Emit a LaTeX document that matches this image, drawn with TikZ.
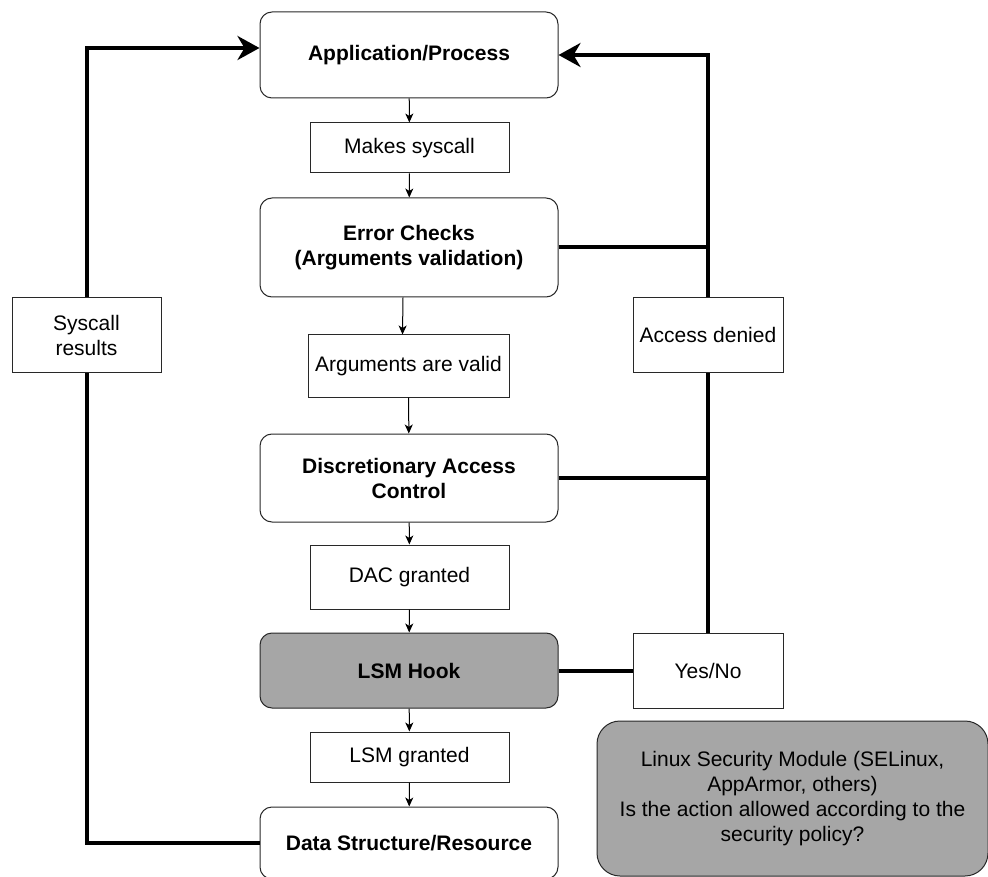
\documentclass[tikz,border=0pt]{standalone}
\usepackage{fontspec}
\setmainfont{Liberation Sans}
\usetikzlibrary{arrows.meta}
\definecolor{boxgray}{RGB}{166,166,166}
\definecolor{edge}{RGB}{40,40,40}
\begin{document}
\begin{tikzpicture}[x=1pt,y=-1pt,
  every node/.style={font=\fontsize{21}{25}\selectfont, inner sep=0pt, align=center},
  rbox/.style={draw=edge, line width=1pt, rounded corners=12pt, fill=white, minimum width=298pt, font=\fontsize{21}{25}\selectfont\bfseries},
  lbox/.style={draw=edge, line width=1pt, fill=white},
  thin/.style={line width=1pt, -{Stealth[length=9pt,width=8pt,inset=2.5pt]}},
  thk/.style={line width=4pt},
  thkarrow/.style={line width=4pt, -{Stealth[length=22pt,width=24pt,inset=7pt]}}
]
\useasboundingbox (0,0) rectangle (988,877);
\fill[white] (0,0) rectangle (988,877);

% main column
\node[rbox, minimum height=86pt] (app) at (409,55) {Application/Process};
\node[lbox, minimum width=199pt, minimum height=50pt] (mk) at (409.5,148) {Makes syscall};
\node[rbox, minimum height=99pt] (err) at (409,247.5) {Error Checks\\(Arguments validation)};
\node[lbox, minimum width=201pt, minimum height=62pt] (valid) at (408.5,366) {Arguments are valid};
\node[rbox, minimum height=88pt] (dac) at (409,478) {Discretionary Access\\Control};
\node[lbox, minimum width=199pt, minimum height=64pt] (dacg) at (409.5,577) {DAC granted};
\node[rbox, fill=boxgray, minimum height=75pt] (lsm) at (409,670.5) {LSM Hook};
\node[lbox, minimum width=199pt, minimum height=50pt] (lsmg) at (409.5,757) {LSM granted};
\node[rbox, minimum height=72pt] (data) at (409,843) {Data Structure/Resource};

% side boxes
\node[lbox, minimum width=149pt, minimum height=74pt] (sr) at (86.5,335) {Syscall\\results};
\node[lbox, minimum width=150pt, minimum height=74pt] (ad) at (708,335) {Access denied};
\node[lbox, minimum width=150pt, minimum height=75pt] (yn) at (708,670.5) {Yes/No};
\node[draw=edge, line width=1pt, fill=boxgray, rounded corners=23pt, minimum width=391pt, minimum height=155pt] (mod) at (792.5,798.5)
  {Linux Security Module (SELinux,\\AppArmor, others)\\Is the action allowed according to the\\security policy?};

% thin vertical arrows
\draw[thin] (app) -- (mk);
\draw[thin] (mk) -- (err);
\draw[thin] ([xshift=-6pt]err.south) -- ([xshift=-6pt]valid.north);
\draw[thin] (valid) -- (dac);
\draw[thin] (dac) -- (dacg);
\draw[thin] (dacg) -- (lsm);
\draw[thin] (lsm) -- (lsmg);
\draw[thin] (lsmg) -- (data);

% left return path
\draw[thk] (data.west) -| (sr.south);
\draw[thkarrow] (sr.north) |- ([yshift=7pt]app.west);

% right denial path
\draw[thk] (err.east) -| (ad.north);
\draw[thkarrow] (ad.north) |- (app.east);
\draw[thk] (dac.east) -| (ad.south);
\draw[thk] (yn.north) -- (ad.south);
\draw[thk] (lsm.east) -- (yn.west);
\end{tikzpicture}
\end{document}
